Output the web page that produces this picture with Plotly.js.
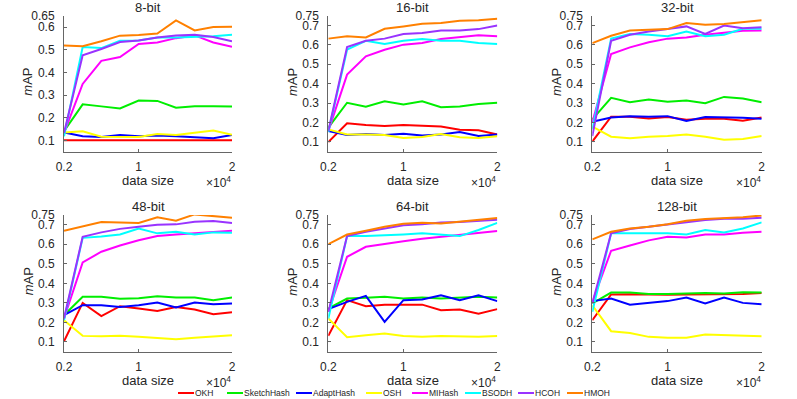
<!DOCTYPE html>
<html>
<head>
<meta charset="utf-8">
<script src="https://cdn.plot.ly/plotly-3.0.1.min.js"></script>
<style>
  body { margin: 0; background: #fff; }
  #graphDiv { width: 797px; height: 399px; }
</style>
</head>
<body>
<div id="graphDiv"></div>
<script>
// data size (x 10^4)
var dataSize = [0.2, 0.4, 0.6, 0.8, 1.0, 1.2, 1.4, 1.6, 1.8, 2.0];
var methods = ['OKH', 'SketchHash', 'AdaptHash', 'OSH', 'MIHash', 'BSODH', 'HCOH', 'HMOH'];
var colors = ['#ff0000', '#00ee00', '#0000ff', '#ffff00', '#ff00ff', '#00ffff', '#9933ff', '#ff8000'];
var panelTitles = ['8-bit', '16-bit', '32-bit', '48-bit', '64-bit', '128-bit'];

// mAP per method, one array per bit length
var okh = [
  [0.10, 0.10, 0.10, 0.10, 0.10, 0.10, 0.10, 0.10, 0.10, 0.10],
  [0.10, 0.196, 0.187, 0.182, 0.187, 0.182, 0.18, 0.163, 0.16, 0.139],
  [0.102, 0.23, 0.23, 0.221, 0.228, 0.215, 0.22, 0.22, 0.209, 0.226],
  [0.103, 0.30, 0.232, 0.283, 0.271, 0.259, 0.279, 0.266, 0.242, 0.252],
  [0.131, 0.314, 0.283, 0.291, 0.291, 0.291, 0.262, 0.266, 0.244, 0.268],
  [0.211, 0.343, 0.344, 0.341, 0.341, 0.343, 0.343, 0.344, 0.346, 0.35]
];
var sketchHash = [
  [0.14, 0.259, 0.25, 0.241, 0.276, 0.274, 0.244, 0.25, 0.25, 0.249],
  [0.174, 0.302, 0.281, 0.31, 0.293, 0.309, 0.279, 0.283, 0.295, 0.302],
  [0.216, 0.327, 0.305, 0.319, 0.307, 0.314, 0.30, 0.332, 0.324, 0.305],
  [0.237, 0.331, 0.331, 0.321, 0.324, 0.334, 0.327, 0.327, 0.314, 0.327],
  [0.271, 0.322, 0.326, 0.331, 0.322, 0.327, 0.322, 0.326, 0.331, 0.327],
  [0.297, 0.353, 0.353, 0.346, 0.346, 0.348, 0.35, 0.348, 0.355, 0.353]
];
var adaptHash = [
  [0.135, 0.118, 0.115, 0.124, 0.118, 0.121, 0.118, 0.112, 0.109, 0.124],
  [0.156, 0.136, 0.141, 0.136, 0.143, 0.134, 0.139, 0.151, 0.131, 0.139],
  [0.204, 0.226, 0.233, 0.23, 0.233, 0.208, 0.228, 0.228, 0.225, 0.22],
  [0.237, 0.288, 0.288, 0.279, 0.288, 0.302, 0.276, 0.302, 0.293, 0.297],
  [0.268, 0.305, 0.336, 0.203, 0.314, 0.317, 0.339, 0.314, 0.339, 0.309],
  [0.309, 0.322, 0.291, 0.30, 0.309, 0.327, 0.297, 0.327, 0.30, 0.293]
];
var osh = [
  [0.135, 0.14, 0.116, 0.115, 0.115, 0.128, 0.124, 0.134, 0.143, 0.125],
  [0.165, 0.139, 0.139, 0.136, 0.121, 0.126, 0.141, 0.124, 0.121, 0.129],
  [0.179, 0.127, 0.119, 0.127, 0.131, 0.139, 0.127, 0.112, 0.115, 0.131],
  [0.211, 0.131, 0.129, 0.132, 0.126, 0.121, 0.114, 0.122, 0.129, 0.134],
  [0.22, 0.124, 0.134, 0.143, 0.131, 0.127, 0.131, 0.129, 0.126, 0.131],
  [0.288, 0.155, 0.146, 0.126, 0.121, 0.122, 0.138, 0.136, 0.131, 0.129]
];
var miHash = [
  [0.132, 0.349, 0.451, 0.468, 0.525, 0.532, 0.551, 0.563, 0.532, 0.513],
  [0.156, 0.447, 0.541, 0.575, 0.601, 0.609, 0.63, 0.638, 0.649, 0.644],
  [0.20, 0.553, 0.587, 0.613, 0.632, 0.638, 0.652, 0.661, 0.673, 0.674],
  [0.22, 0.507, 0.562, 0.594, 0.621, 0.642, 0.65, 0.656, 0.664, 0.669],
  [0.254, 0.536, 0.587, 0.603, 0.616, 0.628, 0.638, 0.647, 0.656, 0.668],
  [0.305, 0.567, 0.594, 0.62, 0.638, 0.635, 0.65, 0.65, 0.659, 0.664]
];
var bsodh = [
  [0.118, 0.512, 0.507, 0.54, 0.541, 0.554, 0.554, 0.556, 0.559, 0.566],
  [0.151, 0.575, 0.621, 0.604, 0.621, 0.63, 0.621, 0.621, 0.609, 0.604],
  [0.165, 0.632, 0.656, 0.652, 0.644, 0.669, 0.644, 0.652, 0.683, 0.683],
  [0.211, 0.633, 0.64, 0.65, 0.681, 0.656, 0.664, 0.65, 0.661, 0.659],
  [0.22, 0.642, 0.642, 0.645, 0.65, 0.656, 0.65, 0.642, 0.673, 0.71],
  [0.254, 0.656, 0.656, 0.656, 0.656, 0.65, 0.673, 0.661, 0.681, 0.712]
];
var hcoh = [
  [0.132, 0.475, 0.503, 0.534, 0.541, 0.554, 0.563, 0.566, 0.556, 0.537],
  [0.156, 0.589, 0.621, 0.632, 0.656, 0.661, 0.674, 0.674, 0.681, 0.70],
  [0.131, 0.621, 0.652, 0.669, 0.681, 0.695, 0.656, 0.699, 0.685, 0.69],
  [0.22, 0.638, 0.661, 0.679, 0.69, 0.70, 0.702, 0.715, 0.719, 0.709],
  [0.254, 0.642, 0.664, 0.681, 0.697, 0.703, 0.712, 0.714, 0.721, 0.726],
  [0.297, 0.656, 0.678, 0.69, 0.702, 0.714, 0.724, 0.731, 0.731, 0.736]
];
var hmoh = [
  [0.519, 0.515, 0.537, 0.562, 0.565, 0.571, 0.629, 0.585, 0.60, 0.601],
  [0.632, 0.644, 0.638, 0.683, 0.695, 0.709, 0.712, 0.724, 0.726, 0.734],
  [0.609, 0.647, 0.674, 0.678, 0.681, 0.712, 0.703, 0.707, 0.715, 0.726],
  [0.669, 0.69, 0.714, 0.712, 0.709, 0.738, 0.721, 0.753, 0.746, 0.736],
  [0.601, 0.65, 0.669, 0.69, 0.705, 0.71, 0.707, 0.715, 0.724, 0.734],
  [0.625, 0.664, 0.681, 0.69, 0.703, 0.721, 0.729, 0.734, 0.738, 0.748]
];
var series = [okh, sketchHash, adaptHash, osh, miHash, bsodh, hcoh, hmoh];

var yTicksSmall = [0.1, 0.2, 0.3, 0.4, 0.5, 0.6, 0.65];
var yTicksBig = [0.1, 0.2, 0.3, 0.4, 0.5, 0.6, 0.7, 0.75];

function drawGraph() {
  var W = 797, H = 399;
  function px(x) { return x / W; }
  function py(y) { return 1 - y / H; }

  // panel boxes in pixels: left, right / top, bottom
  var cols = [[64, 232], [328.3, 497.3], [592.3, 761.7]];
  var rows = [[15.7, 151.7], [215, 351.7]];
  var txt = '#262626', axc = '#666';
  // legend key start positions (px) and row
  var legX = [178, 227, 296, 366, 412, 465, 518, 567], legY = 393;

  var data = [];
  var layout = {
    width: W, height: H,
    margin: {l: 0, r: 0, t: 0, b: 0},
    paper_bgcolor: '#fff',
    plot_bgcolor: '#fff',
    font: {family: 'Liberation Sans, Arial, sans-serif', color: txt, size: 12},
    showlegend: false,
    annotations: [],
    shapes: []
  };

  for (var p = 0; p < 6; p++) {
    var c = cols[p % 3], r = rows[Math.floor(p / 3)];
    var n = p + 1, sfx = n === 1 ? '' : String(n);
    var ticks = p === 0 ? yTicksSmall : yTicksBig;
    layout['xaxis' + sfx] = {
      domain: [px(c[0]), px(c[1])], anchor: 'y' + sfx,
      range: [0.2, 2], tickvals: [0.2, 1, 2], ticktext: ['0.2', '1', '2'],
      showgrid: false, zeroline: false, showline: true, linecolor: axc, linewidth: 1,
      ticks: 'inside', ticklen: 3, tickcolor: axc, tickfont: {size: 12},
      ticklabelstandoff: 4
    };
    layout['yaxis' + sfx] = {
      domain: [py(r[1]), py(r[0])], anchor: 'x' + sfx,
      range: [0.05, p === 0 ? 0.65 : 0.75], tickvals: ticks,
      ticktext: ticks.map(function (v) { return String(v); }),
      showgrid: false, zeroline: false, showline: true, linecolor: axc, linewidth: 1,
      ticks: 'inside', ticklen: 3, tickcolor: axc, tickfont: {size: 12},
      ticklabelstandoff: 6
    };

    for (var s = 0; s < methods.length; s++) {
      data.push({
        x: dataSize, y: series[s][p],
        xaxis: 'x' + sfx, yaxis: 'y' + sfx,
        type: 'scatter', mode: 'lines', name: methods[s],
        line: {color: colors[s], width: 2}
      });
    }

    var cx = (c[0] + c[1]) / 2, cy = (r[0] + r[1]) / 2;
    layout.annotations.push(
      {text: panelTitles[p], x: px(cx), y: py(r[0] - 8.5), xref: 'paper', yref: 'paper',
       showarrow: false, font: {size: 13}, xanchor: 'center', yanchor: 'middle'},
      {text: 'data size', x: px(cx), y: py(r[1] + 29), xref: 'paper', yref: 'paper',
       showarrow: false, font: {size: 13}, xanchor: 'center', yanchor: 'middle'},
      {text: '×10<sup>4</sup>', x: px(c[1] + 1), y: py(r[1] + 30), xref: 'paper', yref: 'paper',
       showarrow: false, font: {size: 12}, xanchor: 'right', yanchor: 'middle'},
      {text: '<i>m</i>AP', x: px(c[0] - 36), y: py(cy - 2), xref: 'paper', yref: 'paper',
       showarrow: false, font: {size: 13}, textangle: -90, xanchor: 'center', yanchor: 'middle'}
    );
  }

  // legend row under the panels
  for (var k = 0; k < methods.length; k++) {
    layout.shapes.push({
      type: 'line', xref: 'paper', yref: 'paper',
      x0: px(legX[k]), x1: px(legX[k] + 16), y0: py(legY), y1: py(legY),
      line: {color: colors[k], width: 2}
    });
    layout.annotations.push({
      text: methods[k], x: px(legX[k] + 16), y: py(legY), xref: 'paper', yref: 'paper',
      showarrow: false, font: {size: 8.5, color: txt}, xanchor: 'left', yanchor: 'middle',
      borderpad: 0
    });
  }

  Plotly.newPlot('graphDiv', data, layout, {displayModeBar: false, staticPlot: true});
}

document.addEventListener('DOMContentLoaded', drawGraph, false);
</script>
</body>
</html>
